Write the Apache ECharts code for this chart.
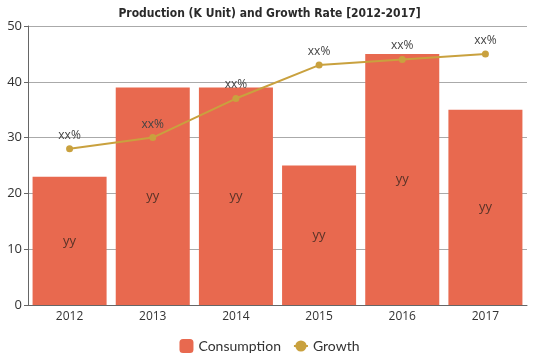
<!DOCTYPE html>
<html><head><meta charset="utf-8">
<script src="https://cdn.jsdelivr.net/npm/echarts@6/dist/echarts.min.js"></script>
<style>html,body{margin:0;padding:0;background:#fff}#c{width:539px;height:359px}</style>
</head><body><div id="c"></div>
<script>
const categories = ['2012','2013','2014','2015','2016','2017'];
const consumption = [23, 39, 39, 25, 45, 35];
const growth = [28, 30, 37, 43, 44, 45];
const yTicks = [0, 10, 20, 30, 40, 50];

const chart = echarts.init(document.getElementById('c'));
chart.setOption({
  animation: false,
  title: {
    text: 'Production (K Unit) and Growth Rate [2012-2017]',
    left: 'center', top: 3,
    textStyle: {fontFamily: '"DejaVu Sans Condensed", "DejaVu Sans"', fontWeight: 'bold', fontSize: 12, color: '#2a2a2a'}
  },
  legend: {
    bottom: 1, itemWidth: 14, itemHeight: 14, itemGap: 12,
    textStyle: {fontFamily: 'Lato', fontSize: 14, color: '#333'},
    data: ['Consumption', 'Growth']
  },
  grid: {left: 28, right: 12, top: 26, bottom: 54},
  xAxis: {
    type: 'category', data: categories,
    axisLine: {lineStyle: {color: '#666'}},
    axisTick: {show: false},
    axisLabel: {fontFamily: '"Open Sans"', fontSize: 12, color: '#333', margin: 6}
  },
  yAxis: {
    type: 'value', min: yTicks[0], max: yTicks[yTicks.length-1], interval: 10,
    axisLine: {show: true, lineStyle: {color: '#666'}},
    axisTick: {show: true, length: 4, lineStyle: {color: '#666'}},
    splitLine: {lineStyle: {color: '#aaa'}},
    axisLabel: {fontFamily: '"Open Sans"', fontSize: 13, color: '#333', margin: 6}
  },
  series: [
    {
      name: 'Consumption', type: 'bar', data: consumption,
      barCategoryGap: '11%',
      itemStyle: {color: '#E8694F'},
      label: {show: true, position: 'inside', formatter: 'yy', fontFamily: '"Open Sans"', fontSize: 13, color: '#5a3328'}
    },
    {
      name: 'Growth', type: 'line', data: growth,
      symbol: 'circle', symbolSize: 7,
      itemStyle: {color: '#C9A13E'},
      lineStyle: {color: '#C9A13E', width: 2},
      label: {show: true, position: 'top', formatter: 'xx%', fontFamily: '"Open Sans"', fontSize: 12, color: '#444', distance: 4}
    }
  ]
});
</script></body></html>
